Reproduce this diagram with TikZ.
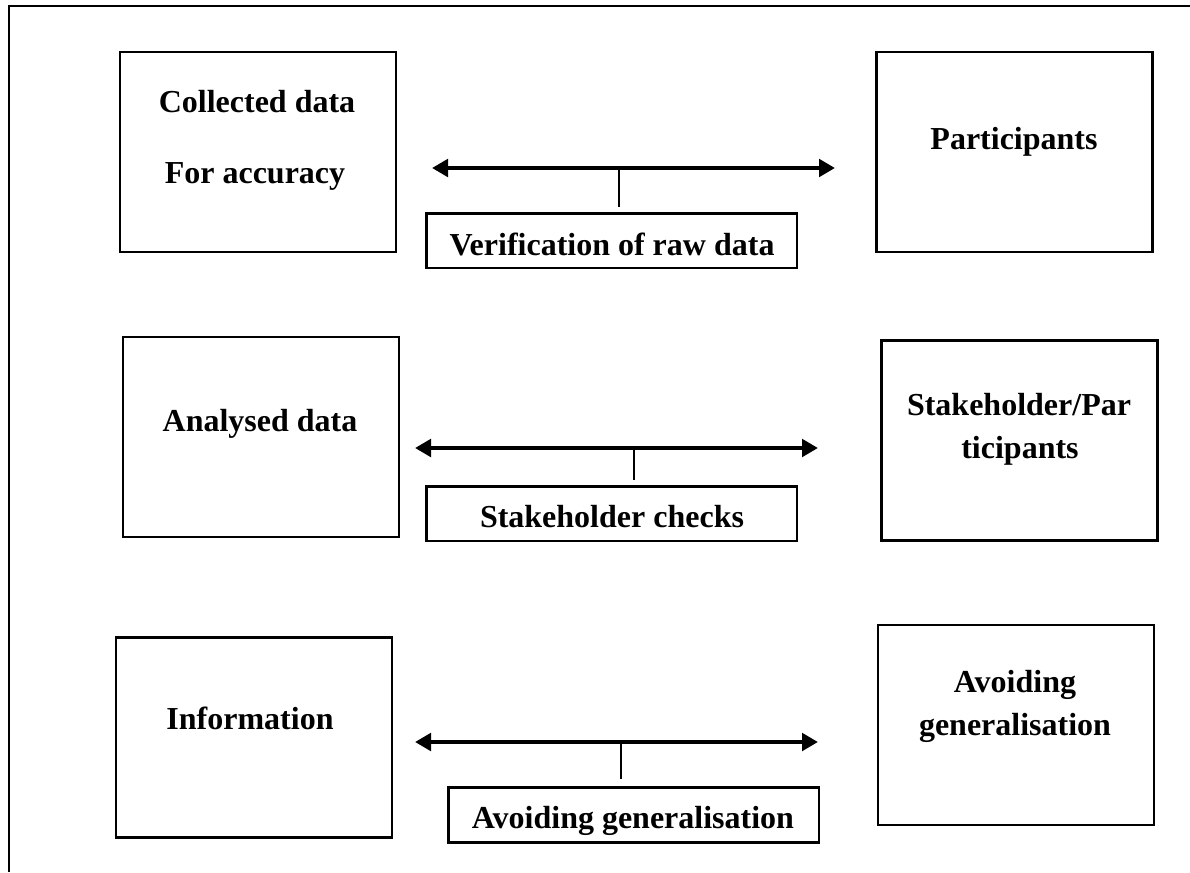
\documentclass[tikz,border=0pt]{standalone}
\usepackage{fontspec}
\setmainfont{Liberation Serif}
\usetikzlibrary{arrows.meta}

\tikzset{
  box/.style={draw, line width=2pt, minimum width=207pt, minimum height=150pt, inner sep=0pt},
  labelbox/.style={draw, line width=2pt, minimum width=278pt, minimum height=41pt, inner sep=0pt},
  txt/.style={anchor=base, inner sep=0pt, font=\fontsize{24}{29}\selectfont\bfseries},
  link/.style={{Triangle[length=12pt,width=13pt]}-{Triangle[length=12pt,width=13pt]}, line width=3pt},
  stem/.style={line width=1.2pt}
}

\begin{document}
\begin{tikzpicture}[x=0.75pt, y=-0.75pt]
        	\useasboundingbox (0,0) rectangle (1190,872);
        	% Frame:
        	\draw[line width=1.6pt] (1190,6) -- (9,6) -- (9,872);

        	% Boxes and texts:
        	\node[box] (collected) at (258,152) {};
        	\node[txt] (collectedA) at (257,112) {Collected data};
        	\node[txt] (collectedB) at (255,183) {For accuracy};
        	\node[box] (participants) at (1014.5,152) {};
        	\node[txt] (participantsA) at (1014,149) {Participants};

        	\node[box] (analysed) at (261,437) {};
        	\node[txt] (analysedA) at (260,431) {Analysed data};
        	\node[box] (stakeholder) at (1019.5,440.5) {};
        	\node[txt] (stakeholderA) at (1019,415) {Stakeholder/Par};
        	\node[txt] (stakeholderB) at (1020,458) {ticipants};

        	\node[box] (information) at (254,737.5) {};
        	\node[txt] (informationA) at (250,729) {Information};
        	\node[box] (avoiding) at (1016,725) {};
        	\node[txt] (avoidingA) at (1015,692) {Avoiding};
        	\node[txt] (avoidingB) at (1015,735) {generalisation};

        	% Labels under the arrows:
        	\node[labelbox] (verification) at (611.5,240.5) {};
        	\node[txt] (verificationA) at (612,255) {Verification of raw data};
        	\node[labelbox] (checks) at (611.5,513.5) {};
        	\node[txt] (checksA) at (612,527) {Stakeholder checks};
        	\node[labelbox] (general) at (633.5,815) {};
        	\node[txt] (generalA) at (633,828) {Avoiding generalisation};

        	% Arrows and stems:
        	\coordinate (l1) at (432,168);
        	\coordinate (r1) at (835,168);
        	\coordinate (s1) at (619,168);
        	\coordinate (e1) at (619,207);
        	\draw[link] (l1) -- (r1);
        	\draw[stem] (s1) -- (e1);

        	\coordinate (l2) at (415,448);
        	\coordinate (r2) at (818,448);
        	\coordinate (s2) at (634,448);
        	\coordinate (e2) at (634,480);
        	\draw[link] (l2) -- (r2);
        	\draw[stem] (s2) -- (e2);

        	\coordinate (l3) at (415,742);
        	\coordinate (r3) at (818,742);
        	\coordinate (s3) at (621,742);
        	\coordinate (e3) at (621,779);
        	\draw[link] (l3) -- (r3);
        	\draw[stem] (s3) -- (e3);
        \end{tikzpicture}
\end{document}
